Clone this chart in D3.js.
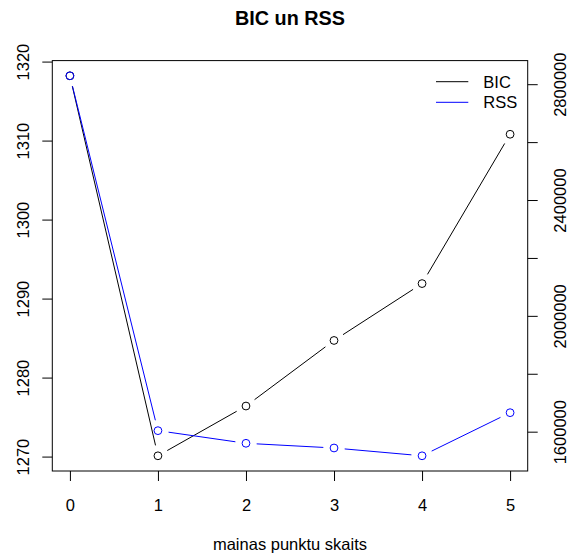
<!DOCTYPE html>
<html>
<head>
<meta charset="utf-8">
<script src="https://cdn.jsdelivr.net/npm/d3@7"></script>
<style>
  html, body { margin: 0; padding: 0; background: #fff; }
  text { font-family: "Liberation Sans", Arial, Helvetica, sans-serif; }
</style>
</head>
<body>
<svg id="chart" width="570" height="560"></svg>
<script>
// Number of change points and the model criteria for each
const points = [0, 1, 2, 3, 4, 5];
const bic = [1318.2, 1270.1, 1276.4, 1284.7, 1291.9, 1310.8];
const rss = [2829000, 1603500, 1559900, 1543700, 1516700, 1665600];

const xTicks = [0, 1, 2, 3, 4, 5];
const bicTicks = [1270, 1280, 1290, 1300, 1310, 1320];
const rssTicks = [1600000, 1800000, 2000000, 2200000, 2400000, 2600000, 2800000];
const rssTickLabels = [1600000, 2000000, 2400000, 2800000];

const legendLabels = ["BIC", "RSS"];
const seriesColors = ["#000000", "#0000ff"];

const W = 570, H = 560;
const box = { left: 52.3, right: 527.7, top: 60.6, bottom: 471 };
const fontSize = 16.5;

// Extend a data range by 4% on each side
function padded(arr) {
  const [lo, hi] = d3.extent(arr);
  const p = (hi - lo) * 0.04;
  return [lo - p, hi + p];
}

const x = d3.scaleLinear().domain(padded(points)).range([box.left, box.right]);
const yB = d3.scaleLinear().domain(padded(bic)).range([box.bottom, box.top]);
const yR = d3.scaleLinear().domain(padded(rss)).range([box.bottom, box.top]);

const svg = d3.select("#chart");

// Title
svg.append("text")
  .attr("x", (box.left + box.right) / 2)
  .attr("y", 25)
  .attr("text-anchor", "middle")
  .attr("font-weight", "bold")
  .attr("font-size", 19.8)
  .text("BIC un RSS");

// X axis
const gx = svg.append("g")
  .attr("transform", `translate(0,${box.bottom})`)
  .call(d3.axisBottom(x).tickValues(xTicks).tickSize(10).tickSizeOuter(0).tickPadding(18)
    .tickFormat(d3.format("d")));
gx.select(".domain").remove();
gx.selectAll("text").attr("font-size", fontSize).attr("fill", "#000").attr("font-family", null);
gx.selectAll("line").attr("stroke", "#000");

// Left axis (BIC)
const gl = svg.append("g")
  .attr("transform", `translate(${box.left},0)`)
  .call(d3.axisLeft(yB).tickValues(bicTicks).tickSize(10).tickSizeOuter(0).tickFormat(d3.format("d")));
gl.select(".domain").remove();
gl.selectAll("line").attr("stroke", "#000");
gl.selectAll("text")
  .attr("x", null).attr("dy", null)
  .attr("font-size", fontSize).attr("fill", "#000").attr("font-family", null)
  .attr("text-anchor", "middle")
  .attr("transform", "translate(-23.5,0) rotate(-90)");

// Right axis (RSS)
const gr = svg.append("g")
  .attr("transform", `translate(${box.right},0)`)
  .call(d3.axisRight(yR).tickValues(rssTicks).tickSize(10).tickSizeOuter(0)
    .tickFormat(d => rssTickLabels.includes(d) ? d3.format("d")(d) : ""));
gr.select(".domain").remove();
gr.selectAll("line").attr("stroke", "#000");
gr.selectAll("text")
  .attr("x", null).attr("dy", null)
  .attr("font-size", fontSize).attr("fill", "#000").attr("font-family", null)
  .attr("text-anchor", "middle")
  .attr("transform", "translate(37.8,0) rotate(-90)");

// X axis title
svg.append("text")
  .attr("x", (box.left + box.right) / 2)
  .attr("y", 550)
  .attr("text-anchor", "middle")
  .attr("font-size", fontSize)
  .text("mainas punktu skaits");

// Plot frame
svg.append("rect")
  .attr("x", box.left).attr("y", box.top)
  .attr("width", box.right - box.left).attr("height", box.bottom - box.top)
  .attr("fill", "none").attr("stroke", "#000").attr("stroke-width", 1);

// "both" style series: points joined by segments that stop short of each marker
const gap = 10.7;
function drawSeries(vals, yScale, color) {
  const pts = points.map((p, i) => [x(p), yScale(vals[i])]);
  const segs = [];
  for (let i = 0; i < pts.length - 1; i++) {
    const [x1, y1] = pts[i], [x2, y2] = pts[i + 1];
    const len = Math.hypot(x2 - x1, y2 - y1);
    if (len <= 2 * gap) continue;
    const ux = (x2 - x1) / len, uy = (y2 - y1) / len;
    segs.push([x1 + ux * gap, y1 + uy * gap, x2 - ux * gap, y2 - uy * gap]);
  }
  const g = svg.append("g");
  g.selectAll("line").data(segs).join("line")
    .attr("x1", d => d[0]).attr("y1", d => d[1])
    .attr("x2", d => d[2]).attr("y2", d => d[3])
    .attr("stroke", color).attr("stroke-width", 1);
  g.selectAll("circle").data(pts).join("circle")
    .attr("cx", d => d[0]).attr("cy", d => d[1]).attr("r", 3.9)
    .attr("fill", "none").attr("stroke", color).attr("stroke-width", 1);
}
drawSeries(bic, yB, seriesColors[0]);
drawSeries(rss, yR, seriesColors[1]);

// Legend
const lg = svg.append("g");
legendLabels.forEach((lab, i) => {
  const ly = 81.7 + i * 20.6;
  lg.append("line")
    .attr("x1", 436).attr("x2", 468.3).attr("y1", ly).attr("y2", ly)
    .attr("stroke", seriesColors[i]).attr("stroke-width", 1);
  lg.append("text")
    .attr("x", 483.3).attr("y", ly).attr("dy", "0.36em")
    .attr("font-size", fontSize)
    .text(lab);
});
</script>
</body>
</html>
